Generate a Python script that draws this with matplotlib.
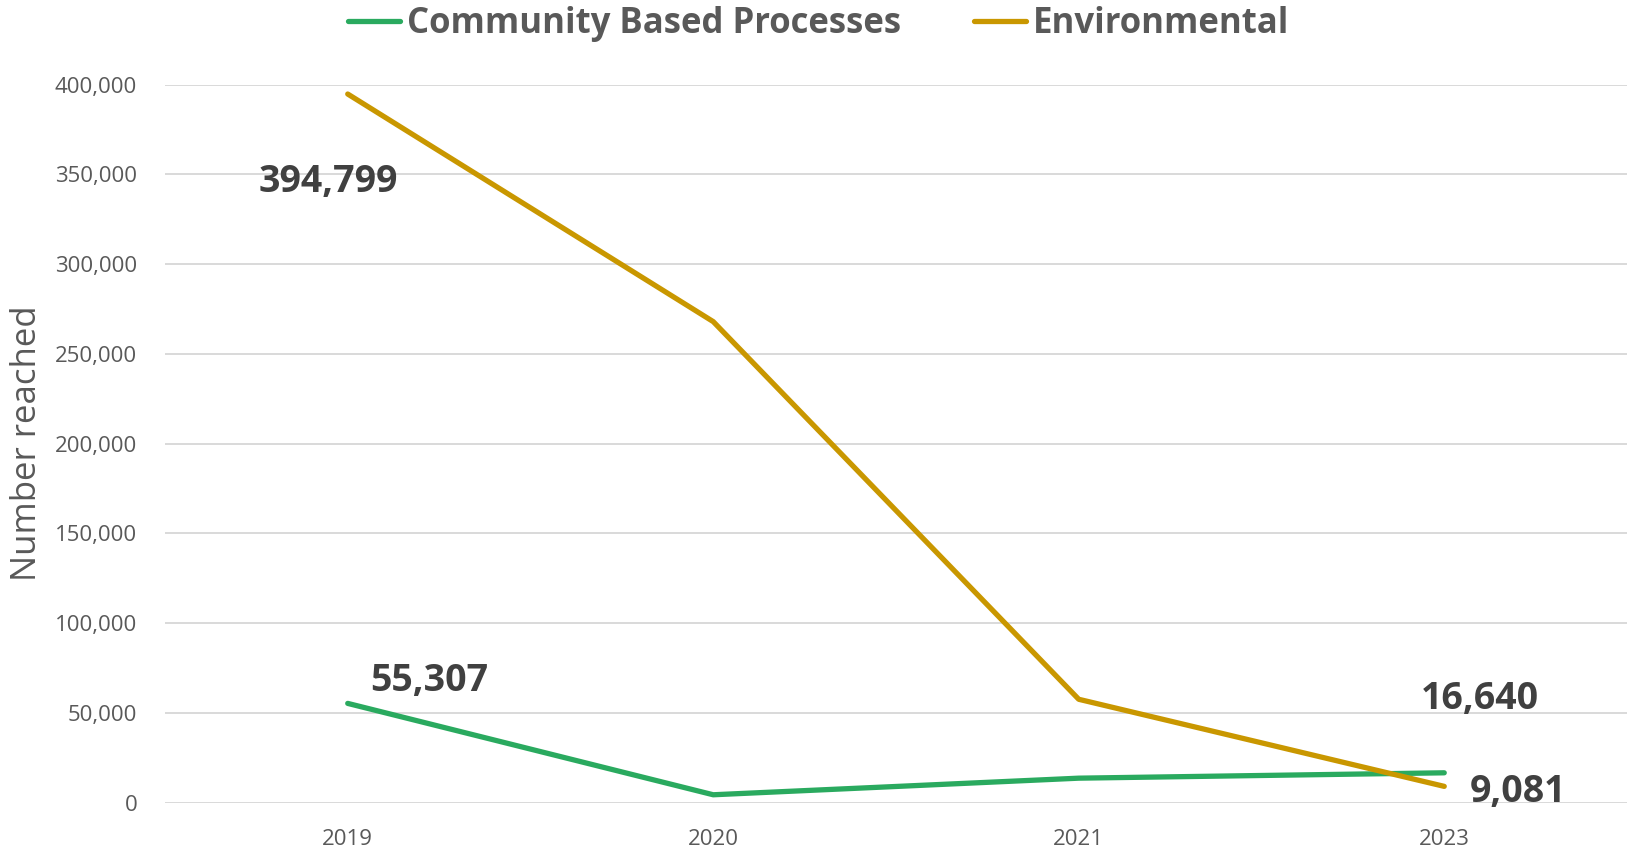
import numpy as np
import matplotlib.pyplot as plt
from matplotlib.ticker import FuncFormatter

# data
years = ['2019', '2020', '2021', '2023']
community = [55307, 4400, 13650, 16640]
environmental = [394799, 268000, 57600, 9081]

green = '#2AAA5F'
gold = '#C99700'
txt = '#595959'
lbl = '#404040'

plt.rcParams['font.family'] = ['Open Sans', 'DejaVu Sans']

fig = plt.figure(figsize=(16.27, 8.52), dpi=100)
ax = fig.add_axes([0.1014, 0.0579, 0.8986, 0.8427])

x = np.arange(len(years))
ax.plot(x, community, color=green, lw=3.8, solid_capstyle='round', clip_on=False,
        label='Community Based Processes', zorder=3)
ax.plot(x, environmental, color=gold, lw=3.8, solid_capstyle='round', clip_on=False,
        label='Environmental', zorder=3)

ax.set_xlim(-0.5, len(years) - 0.5)
ax.set_ylim(0, 400000)
ax.set_yticks(np.arange(0, 400001, 50000))
ax.yaxis.set_major_formatter(FuncFormatter(lambda v, p: f'{int(v):,}'))
ax.set_xticks(x)
ax.set_xticklabels(years)
ax.grid(axis='y', color='#D9D9D9', lw=1.4)
ax.set_axisbelow(True)
for s in ax.spines.values():
    s.set_visible(False)
ax.tick_params(axis='both', length=0, labelsize=16, colors=txt)
ax.tick_params(axis='y', pad=20)
ax.tick_params(axis='x', pad=19)
ax.set_ylabel('Number reached', fontsize=25, color=txt)
ax.yaxis.set_label_coords(-0.083, 0.5)

# data labels
lab_kw = dict(fontsize=27, fontweight='bold', color=lbl, ha='center', va='center',
              textcoords='offset points')
ax.annotate(f'{environmental[0]:,}', (x[0], environmental[0]), xytext=(-14, -63), **lab_kw)
ax.annotate(f'{community[0]:,}', (x[0], community[0]), xytext=(59, 16), **lab_kw)
ax.annotate(f'{community[3]:,}', (x[3], community[3]), xytext=(26, 53), **lab_kw)
ax.annotate(f'{environmental[3]:,}', (x[3], environmental[3]), xytext=(53, -4), **lab_kw)

leg = fig.legend(loc='upper center', bbox_to_anchor=(0.503, 1.03), ncol=2, frameon=False,
                 handlelength=1.5, handletextpad=0.2, columnspacing=2.1,
                 prop={'size': 25, 'weight': 'bold'})
for t in leg.get_texts():
    t.set_color(txt)

fig.savefig('out.png', dpi=100)
